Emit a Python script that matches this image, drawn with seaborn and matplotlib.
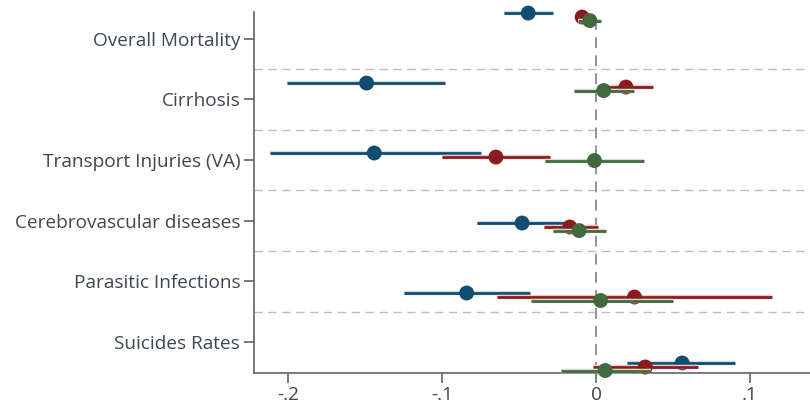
import numpy as np
import pandas as pd
import seaborn as sns
import matplotlib
matplotlib.use("Agg")
import matplotlib.pyplot as plt
from matplotlib import patheffects as pe

# ---------------- data ----------------
categories = ["Overall Mortality", "Cirrhosis", "Transport Injuries (VA)",
              "Cerebrovascular diseases", "Parasitic Infections", "Suicides Rates"]
series_names = ["Series 1", "Series 2", "Series 3"]

blue_est = [-0.044, -0.149, -0.144, -0.048, -0.084, 0.056]
blue_lo = [-0.060, -0.201, -0.212, -0.077, -0.125, 0.020]
blue_hi = [-0.028, -0.098, -0.075, -0.017, -0.043, 0.090]

red_est = [-0.009, 0.0195, -0.065, -0.017, 0.025, 0.032]
red_lo = [-0.013, 0.002, -0.100, -0.034, -0.064, -0.002]
red_hi = [-0.005, 0.037, -0.030, 0.001, 0.114, 0.066]

green_est = [-0.004, 0.005, -0.001, -0.011, 0.003, 0.006]
green_lo = [-0.012, -0.014, -0.033, -0.028, -0.042, -0.023]
green_hi = [0.003, 0.025, 0.031, 0.0065, 0.050, 0.036]

xticks = [-0.2, -0.1, 0.0, 0.1]
xticklabels = ["-.2", "-.1", "0", ".1"]

# ---------------- layout / style ----------------
colors = ["#0f4e70", "#8c1b1e", "#416a3e"]
halo = ["#cfdde6", "#e8cccc", "#d2ddd0"]
label_pos = np.arange(len(categories))
group_pos = -0.42 + 1.153 * np.arange(len(categories))
offsets = [0.0, 0.066, 0.124]

rows = []
for s, (name, est, lo, hi) in enumerate(zip(series_names,
                                             [blue_est, red_est, green_est],
                                             [blue_lo, red_lo, green_lo],
                                             [blue_hi, red_hi, green_hi])):
    for i, cat in enumerate(categories):
        rows.append(dict(category=cat, series=name, est=est[i], lo=lo[i], hi=hi[i],
                         y=group_pos[i] + offsets[s]))
df = pd.DataFrame(rows)

sns.set_theme(style="white")
plt.rcParams["font.family"] = ["Open Sans", "DejaVu Sans"]
text_color = "#3d4751"

fig = plt.figure(figsize=(8.10, 4.09), dpi=100)
ax = fig.add_axes([0.3136, 0.088, 0.6864, 0.8826])

# separators and zero line
for k in range(len(categories) - 1):
    ax.axhline(k + 0.5, color="#bdbdbd", lw=1.0, ls=(0, (6, 4)), zorder=0)
ax.axvline(0, color="#8a8a8a", lw=1.3, ls=(0, (6, 4)), zorder=0.5)

for s, name in enumerate(series_names):
    sub = df[df.series == name]
    ax.hlines(sub["y"], sub["lo"], sub["hi"], color=colors[s], lw=2.0,
              zorder=2 + 2 * s, clip_on=False,
              path_effects=[pe.Stroke(linewidth=3.2, foreground=halo[s]), pe.Normal()])
    sns.scatterplot(data=sub, x="est", y="y", color=colors[s], s=115,
                    edgecolor="none", linewidth=0, zorder=3 + 2 * s, ax=ax,
                    legend=False, clip_on=False)

ax.set_xlim(-0.2221, 0.139)
ax.set_ylim(5.51, -0.437)
ax.set_yticks(label_pos)
ax.set_yticklabels(categories)
ax.set_xticks(xticks)
ax.set_xticklabels(xticklabels)
ax.set_xlabel("")
ax.set_ylabel("")

for sp in ["top", "right"]:
    ax.spines[sp].set_visible(False)
for sp in ["left", "bottom"]:
    ax.spines[sp].set_color("#5f656b")
    ax.spines[sp].set_linewidth(1.2)

ax.tick_params(axis="both", which="major", direction="out", length=7, width=1.2,
               color="#5f656b", labelcolor=text_color, labelsize=13.7, pad=3,
               left=True, bottom=True)
ax.tick_params(axis="x", pad=2)

fig.savefig("out.png", dpi=100)
